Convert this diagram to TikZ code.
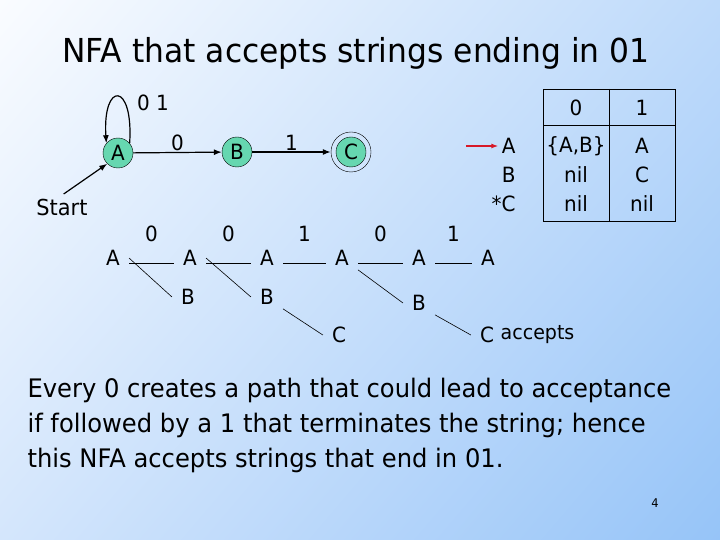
\documentclass[tikz,border=0pt]{standalone}
\usepackage{fontspec}
\setmainfont{DejaVu Sans}[FakeStretch=0.95]
\usetikzlibrary{arrows.meta, positioning, shadings}

\definecolor{bgtl}{RGB}{250,252,255}
\definecolor{bgtr}{RGB}{190,218,250}
\definecolor{bgbl}{RGB}{212,230,252}
\definecolor{bgbr}{RGB}{150,196,248}
\definecolor{statefill}{RGB}{102,215,176}
\definecolor{startred}{RGB}{215,25,40}

\begin{document}
\begin{tikzpicture}[
  x=1pt, y=-1pt,
  font=\fontsize{21}{24}\selectfont,
  state/.style={circle, draw, fill=statefill, minimum size=30pt, inner sep=0pt},
  ring/.style={circle, draw, minimum size=40pt, inner sep=0pt},
  trans/.style={-{Latex[length=8pt, width=6pt]}, line width=1.2pt},
  redarrow/.style={-{Latex[length=7pt, width=5pt]}, line width=1.3pt, startred},
  tnode/.style={font=\fontsize{21}{21}\selectfont, inner xsep=9pt, inner ysep=4pt},
  branch/.style={line width=0.6pt},
  grid/.style={line width=0.6pt}
]

% --- Background ---
\useasboundingbox (0,0) rectangle (720,540);
\shade[upper left=bgtl, upper right=bgtr, lower left=bgbl, lower right=bgbr]
  (0,0) rectangle (720,540);

% --- Title ---
\node[font=\fontsize{33}{33}\selectfont, anchor=base] (title) at (356,63)
  {NFA that accepts strings ending in 01};

% --- NFA: states A, B, C ---
\node[state] (qa) at (118,153) {A};
\node[state] (qb) at (237,152) {B};
\node[state] (qc) at (351,152) {C};
\node[ring] (qcring) at (qc) {};

\draw[trans] (qa) -- node[above, inner sep=1pt] {0} (qb);
\draw[trans] (qb) -- node[above, inner sep=1pt] {1} (qcring);

% --- Self loop on A ---
\draw[trans] (qa.40) .. controls +(4,-62) and +(-4,-62) .. (qa.140);
\node (loop01) at (153,103) {0 1};

% --- Start ---
\node[font=\fontsize{22}{22}\selectfont] (start) at (62,207) {Start};
\draw[trans, shorten <=2pt] (start.north) -- (qa.225);

% --- Transition table ---
\node[anchor=east] (ra) at (519,146) {A};
\node[anchor=east] (rb) at (519,175) {B};
\node[anchor=east] (rc) at (519,204) {*C};
\coordinate (rin) at (466,146);
\draw[redarrow] (rin) -- (ra.west);

\node (h0) at (576,108) {0};
\node (h1) at (642,108) {1};
\node (t0a) at (576,146) {\{A,B\}};
\node (t0b) at (576,175) {nil};
\node (t0c) at (576,204) {nil};
\node (t1a) at (642,146) {A};
\node (t1b) at (642,175) {C};
\node (t1c) at (642,204) {nil};

\draw[grid] (543,89) rectangle (675,221);
\draw[grid] (543,125) -- (675,125);
\draw[grid] (609,89) -- (609,221);

% --- Run on input 00101 ---
\node[tnode] (a0) at (113,258) {A};
\node[tnode] (a1) at (190,258) {A};
\node[tnode] (a2) at (267,258) {A};
\node[tnode] (a3) at (342,258) {A};
\node[tnode] (a4) at (419,258) {A};
\node[tnode] (a5) at (488,258) {A};
\node[tnode] (b1) at (188,297) {B};
\node[tnode] (b2) at (267,297) {B};
\node[tnode] (b3) at (419,303) {B};
\node[tnode] (c1) at (339,335) {C};
\node[tnode] (c2) at (487,335) {C};
\node[right=-6pt of c2, font=\fontsize{20}{20}\selectfont] (acc) {accepts};

\draw[branch] (a0.mid east) -- node[midway, yshift=29pt] {0} (a1.mid west);
\draw[branch] (a1.mid east) -- node[midway, yshift=29pt] {0} (a2.mid west);
\draw[branch] (a2.mid east) -- node[midway, yshift=29pt] {1} (a3.mid west);
\draw[branch] (a3.mid east) -- node[midway, yshift=29pt] {0} (a4.mid west);
\draw[branch] (a4.mid east) -- node[midway, yshift=29pt] {1} (a5.mid west);

\draw[branch] (a0.east) -- (b1.west);
\draw[branch] (a1.east) -- (b2.west);
\draw[branch] (a3.south east) -- (b3.west);
\draw[branch] (b2.south east) -- (c1.west);
\draw[branch] (b3.south east) -- (c2.west);

% --- Explanation ---
\node[anchor=base west, font=\fontsize{25.5}{30}\selectfont] (body1) at (24,397)
  {Every 0 creates a path that could lead to acceptance};
\node[anchor=base west, font=\fontsize{25.5}{30}\selectfont] (body2) at (24,432)
  {if followed by a 1 that terminates the string; hence};
\node[anchor=base west, font=\fontsize{25.5}{30}\selectfont] (body3) at (24,467)
  {this NFA accepts strings that end in 01.};

% --- Page number ---
\node[font=\fontsize{12}{12}\selectfont] (pageno) at (655,503) {4};

\end{tikzpicture}
\end{document}
